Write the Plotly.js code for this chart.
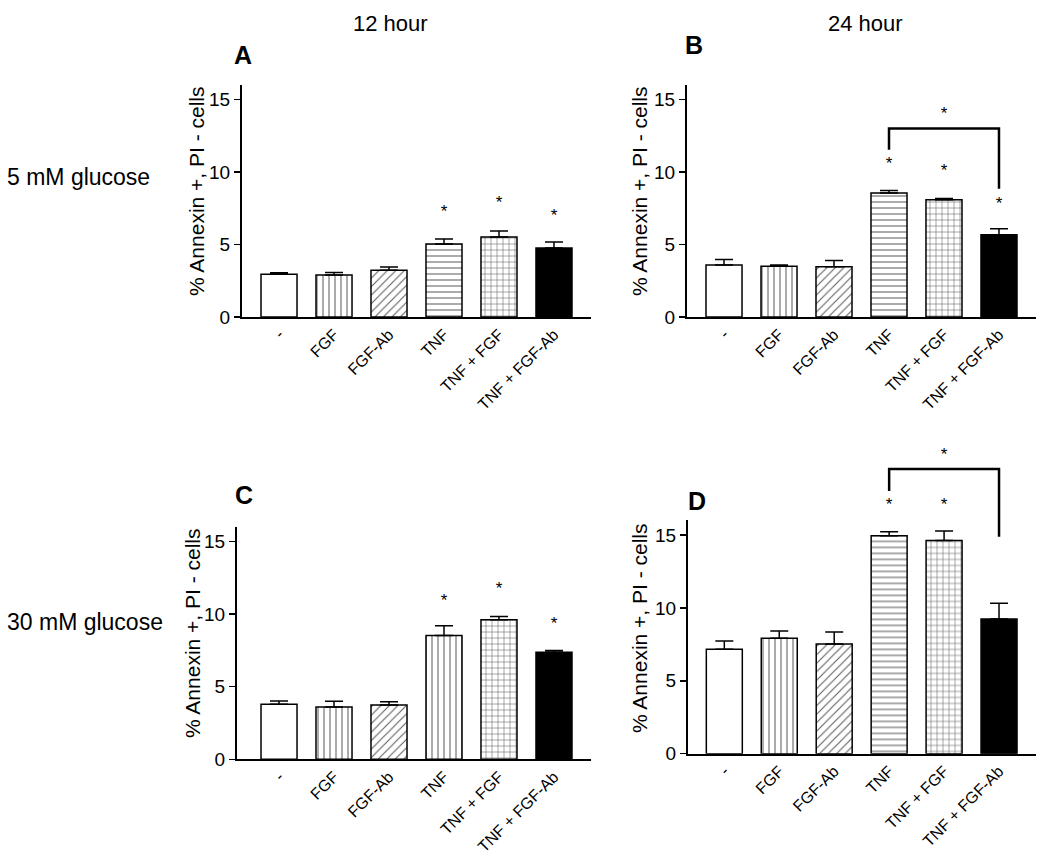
<!DOCTYPE html>
<html>
<head>
<meta charset="utf-8">
<script src="https://cdn.plot.ly/plotly-3.0.1.min.js"></script>
<style>html,body{margin:0;padding:0;background:#fff;}#chart{width:1050px;height:867px;}</style>
</head>
<body>
<div id="chart"></div>
<script>
// ---- data ----
var categories = ['-', 'FGF', 'FGF-Ab', 'TNF', 'TNF + FGF', 'TNF + FGF-Ab'];
var yTicks = [0, 5, 10, 15];

var meanA = [2.95, 2.90, 3.22, 5.04, 5.52, 4.76];
var errA  = [0.10, 0.17, 0.23, 0.34, 0.41, 0.42];
var meanB = [3.58, 3.50, 3.46, 8.55, 8.08, 5.68];
var errB  = [0.38, 0.08, 0.43, 0.17, 0.10, 0.41];
var meanC = [3.80, 3.60, 3.74, 8.52, 9.62, 7.38];
var errC  = [0.22, 0.40, 0.23, 0.67, 0.22, 0.12];
var meanD = [7.16, 7.91, 7.52, 14.95, 14.63, 9.24];
var errD  = [0.57, 0.50, 0.83, 0.28, 0.64, 1.07];

var starA = [null, null, null, 7.17, 7.8, 6.9];
var starB = [null, null, null, 10.5, 10.03, 7.74];
var starC = [null, null, null, 10.83, 11.67, 9.3];
var starD = [null, null, null, 17.0, 17.0, null];

// bracket: [left category, right category, top, left leg bottom, right leg bottom, star]
var bracketB = ['TNF', 'TNF + FGF-Ab', 13.0, 11.53, 8.85, 13.93];
var bracketD = ['TNF', 'TNF + FGF-Ab', 19.53, 18.02, 14.88, 20.4];

var patternsABD = ['', '|', '/', '-', '+', ''];
var patternsC   = ['', '|', '/', '|', '+', ''];
var fillColors  = ['#ffffff', '#ffffff', '#ffffff', '#ffffff', '#ffffff', '#000000'];

var panelLetters = ['A', 'B', 'C', 'D'];
var colTitles = ['12 hour', '24 hour'];
var rowTitles = ['5 mM glucose', '30 mM glucose'];
var yTitle = '% Annexin +, PI - cells';

// ---- layout geometry (pixels) ----
var W = 1050, H = 867;
function px(x) { return x / W; }
function py(y) { return 1 - y / H; }

var panels = [
  {mean: meanA, err: errA, stars: starA, pat: patternsABD, bracket: null,
   xl: 242, xr: 591, xr0: -0.673, yb: 317, yt: 85, letter: [243, 55], ytitle: [196, 191]},
  {mean: meanB, err: errB, stars: starB, pat: patternsABD, bracket: bracketB,
   xl: 687, xr: 1036, xr0: -0.673, yb: 317, yt: 85, letter: [694, 45], ytitle: [639, 191]},
  {mean: meanC, err: errC, stars: starC, pat: patternsC, bracket: null,
   xl: 237, xr: 591, xr0: -0.764, yb: 759.3, yt: 527, letter: [244, 495], ytitle: [192, 633]},
  {mean: meanD, err: errD, stars: starD, pat: patternsABD, bracket: bracketD,
   xl: 688, xr: 1036, xr0: -0.661, yb: 753.7, yt: 520.4, letter: [697, 501], ytitle: [639, 628]}
];

var FONT = 'Liberation Sans, Arial, sans-serif';
var traces = [];
var layout = {
  width: W, height: H,
  margin: {l: 0, r: 0, t: 0, b: 0},
  paper_bgcolor: '#fff', plot_bgcolor: 'rgba(0,0,0,0)',
  showlegend: false, barmode: 'overlay',
  font: {family: FONT, color: '#000'},
  annotations: [], shapes: []
};

var YMAX = 16, OVER = 21;
panels.forEach(function(p, i) {
  var n = i + 1;
  var xa = 'x' + (n === 1 ? '' : n), ya = 'y' + (n === 1 ? '' : n);
  var yo = 'y' + (n + 4);
  var xdom = [px(p.xl), px(p.xr)];
  var yb = py(p.yb), yt = py(p.yt);
  var ovTop = yb + (yt - yb) * OVER / YMAX;

  categories.forEach(function(cat, k) {
    var mk = {color: fillColors[k], line: {color: '#000', width: 1.5}};
    if (p.pat[k]) {
      mk.pattern = {shape: p.pat[k], fillmode: 'replace', bgcolor: '#ffffff', fgcolor: '#5a5a5a',
                    size: 6, solidity: 0.17};
    }
    traces.push({
      type: 'bar', x: [cat], y: [p.mean[k]], xaxis: xa, yaxis: ya, width: 0.655,
      marker: mk,
      error_y: {type: 'data', symmetric: false, array: [p.err[k]], arrayminus: [0],
                color: '#000', thickness: 1.5, width: 9},
      hoverinfo: 'skip'
    });
  });

  var xkey = 'xaxis' + (n === 1 ? '' : n), ykey = 'yaxis' + (n === 1 ? '' : n);
  layout[xkey] = {
    domain: xdom, anchor: ya, type: 'category', categoryorder: 'array', categoryarray: categories,
    range: [p.xr0, 5.673], showline: true, linecolor: '#000', linewidth: 2, ticks: '',
    tickangle: -45, tickfont: {size: 16, family: FONT, color: '#000'}, showgrid: false, zeroline: false,
    fixedrange: true
  };
  layout[ykey] = {
    domain: [yb, yt], anchor: xa, range: [0, YMAX], tickmode: 'array', tickvals: yTicks,
    ticktext: yTicks.map(String), ticks: 'outside', ticklen: 6, tickwidth: 1.5, tickcolor: '#000',
    showline: true, linecolor: '#000', linewidth: 2, showgrid: false, zeroline: false,
    tickfont: {size: 19, family: FONT, color: '#000'}, fixedrange: true
  };
  layout['yaxis' + (n + 4)] = {
    domain: [yb, Math.min(ovTop, 1)], anchor: xa, range: [0, OVER * (Math.min(ovTop, 1) - yb) / (ovTop - yb)],
    visible: false, showgrid: false, zeroline: false, fixedrange: true
  };

  var sx = [], sy = [];
  p.stars.forEach(function(v, k) { if (v !== null) { sx.push(categories[k]); sy.push(v); } });
  if (p.bracket) {
    var b = p.bracket;
    traces.push({
      type: 'scatter', mode: 'lines', xaxis: xa, yaxis: yo,
      x: [b[0], b[0], b[1], b[1]], y: [b[3], b[2], b[2], b[4]],
      line: {color: '#000', width: 2.5}, hoverinfo: 'skip'
    });
    sx.push(categories[4]); sy.push(b[5]);
  }
  traces.push({
    type: 'scatter', mode: 'text', xaxis: xa, yaxis: yo, x: sx, y: sy,
    text: sx.map(function(){return '*';}), textposition: 'middle center', cliponaxis: false,
    textfont: {size: 17, family: FONT, color: '#000'}, hoverinfo: 'skip'
  });

  layout.annotations.push({xref: 'paper', yref: 'paper', x: px(p.letter[0]), y: py(p.letter[1]),
    text: '<b>' + panelLetters[i] + '</b>', showarrow: false, xanchor: 'center', yanchor: 'middle',
    font: {size: 25, family: FONT, color: '#000'}});
  layout.annotations.push({xref: 'paper', yref: 'paper', x: px(p.ytitle[0]), y: py(p.ytitle[1]),
    text: yTitle, textangle: -90, showarrow: false, xanchor: 'center', yanchor: 'middle',
    font: {size: 21, family: FONT, color: '#000'}});
});

[[390, 23], [865, 23]].forEach(function(c, k) {
  layout.annotations.push({xref: 'paper', yref: 'paper', x: px(c[0]), y: py(c[1]), text: colTitles[k],
    showarrow: false, xanchor: 'center', yanchor: 'middle', font: {size: 22, family: FONT, color: '#000'}});
});
[[5, 177], [5, 622]].forEach(function(c, k) {
  layout.annotations.push({xref: 'paper', yref: 'paper', x: px(c[0]), y: py(c[1]), text: rowTitles[k],
    showarrow: false, xanchor: 'left', yanchor: 'middle', font: {size: 23, family: FONT, color: '#000'}});
});

Plotly.newPlot('chart', traces, layout, {staticPlot: true, displayModeBar: false});
</script>
</body>
</html>
